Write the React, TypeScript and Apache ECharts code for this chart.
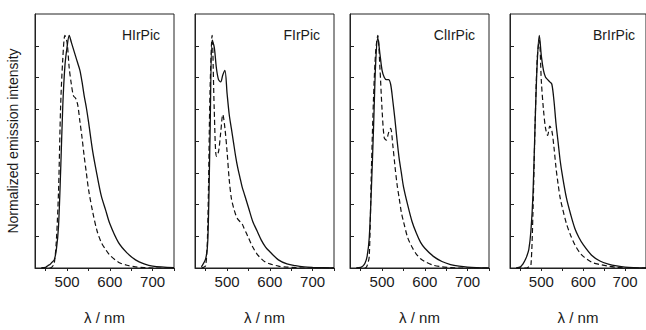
import React, { useEffect, useRef } from "react";
import * as echarts from "echarts";

// Wavelength grid (nm)
const wavelengths = [440, 450, 455, 460, 465, 470, 475, 480, 485, 490, 495, 500, 505, 510, 515, 520, 525, 530, 535, 540, 545, 550, 560, 570, 580, 590, 600, 620, 640, 660, 680, 700, 750];

// HIrPic
const hirSolid = [0, 0.003, 0.01, 0.015, 0.025, 0.035, 0.08, 0.18, 0.42, 0.7, 0.87, 0.95, 1.0, 0.97, 0.94, 0.91, 0.88, 0.85, 0.8, 0.74, 0.69, 0.63, 0.5, 0.4, 0.31, 0.25, 0.19, 0.11, 0.065, 0.035, 0.018, 0.008, 0.001];
const hirDashed = [0, 0, 0, 0, 0.005, 0.02, 0.12, 0.33, 0.7, 0.9, 1.0, 0.97, 0.86, 0.79, 0.74, 0.73, 0.7, 0.63, 0.56, 0.48, 0.41, 0.34, 0.24, 0.16, 0.11, 0.08, 0.055, 0.025, 0.012, 0.005, 0.002, 0, 0];
// FIrPic
const firSolid = [0.005, 0.04, 0.12, 0.55, 0.98, 0.95, 0.86, 0.81, 0.8, 0.83, 0.85, 0.75, 0.66, 0.6, 0.54, 0.48, 0.43, 0.39, 0.35, 0.32, 0.29, 0.26, 0.2, 0.16, 0.12, 0.09, 0.07, 0.035, 0.018, 0.01, 0.005, 0.003, 0];
const firDashed = [0, 0.01, 0.2, 0.75, 1.0, 0.68, 0.48, 0.5, 0.58, 0.66, 0.6, 0.5, 0.38, 0.3, 0.26, 0.23, 0.21, 0.2, 0.19, 0.17, 0.15, 0.13, 0.09, 0.06, 0.04, 0.025, 0.018, 0.008, 0.004, 0.002, 0, 0, 0];
// ClIrPic
const clirSolid = [0, 0.003, 0.008, 0.02, 0.05, 0.13, 0.34, 0.6, 0.88, 0.99, 0.92, 0.85, 0.82, 0.81, 0.81, 0.79, 0.72, 0.64, 0.55, 0.47, 0.41, 0.35, 0.27, 0.2, 0.15, 0.11, 0.085, 0.05, 0.028, 0.015, 0.008, 0.004, 0];
const clirDashed = [0, 0, 0, 0, 0.01, 0.05, 0.42, 0.73, 0.93, 1.0, 0.86, 0.68, 0.56, 0.55, 0.58, 0.6, 0.53, 0.44, 0.36, 0.3, 0.24, 0.2, 0.13, 0.09, 0.06, 0.04, 0.028, 0.012, 0.005, 0.002, 0, 0, 0];
// BrIrPic
const brirSolid = [0, 0.005, 0.015, 0.03, 0.05, 0.08, 0.16, 0.32, 0.62, 0.88, 1.0, 0.91, 0.85, 0.82, 0.81, 0.8, 0.79, 0.72, 0.62, 0.54, 0.46, 0.4, 0.3, 0.23, 0.17, 0.13, 0.1, 0.055, 0.03, 0.017, 0.009, 0.004, 0];
const brirDashed = [0, 0, 0, 0, 0, 0.005, 0.01, 0.25, 0.62, 0.9, 0.98, 0.8, 0.68, 0.6, 0.57, 0.61, 0.59, 0.52, 0.43, 0.36, 0.3, 0.26, 0.19, 0.14, 0.1, 0.07, 0.05, 0.025, 0.015, 0.008, 0.003, 0, 0];

const panelNames = ["HIrPic", "FIrPic", "ClIrPic", "BrIrPic"];
const solidSets = [hirSolid, firSolid, clirSolid, brirSolid];
const dashedSets = [hirDashed, firDashed, clirDashed, brirDashed];

const xTickValues = [450, 500, 550, 600, 650, 700, 750];
const xLabelValues = [500, 600, 700];
const yTickValues = [0.1365, 0.273, 0.4095, 0.546, 0.6825, 0.819, 0.9555];

const X_MIN = 425;
const X_MAX = 750;
const Y_MAX = 1.092;

const panelLefts = [35, 195, 350, 510];
const PANEL_W = 139;
const PANEL_TOP = 14;
const PANEL_H = 262;
const FONT = "Liberation Sans, Arial, Helvetica, sans-serif";
const INK = "#1a1a1a";

export default function App() {
  const ref = useRef<HTMLDivElement>(null);

  useEffect(() => {
    if (!ref.current) return;
    const chart = echarts.init(ref.current, undefined, { renderer: "svg" });

    const grids = panelLefts.map((left) => ({
      left,
      top: PANEL_TOP,
      width: PANEL_W,
      height: PANEL_H,
      show: true,
      borderColor: "#222",
      borderWidth: 1,
      backgroundColor: "transparent",
    }));

    const xAxes = panelLefts.map((_, i) => ({
      type: "value",
      gridIndex: i,
      min: X_MIN,
      max: X_MAX,
      name: "λ / nm",
      nameLocation: "middle",
      nameGap: 42,
      nameTextStyle: { fontFamily: FONT, fontSize: 15, color: INK },
      axisLine: { show: true, lineStyle: { color: "#222", width: 1 } },
      axisTick: { show: true, inside: false, length: 3, customValues: xTickValues, lineStyle: { color: "#222" } },
      axisLabel: { customValues: xLabelValues, fontFamily: FONT, fontSize: 15, color: INK, margin: 6 },
      splitLine: { show: false },
    }));

    const yAxes = panelLefts.map((_, i) => ({
      type: "value",
      gridIndex: i,
      min: 0,
      max: Y_MAX,
      name: i === 0 ? "Normalized emission intensity" : "",
      nameLocation: "middle",
      nameGap: 15,
      nameTextStyle: { fontFamily: FONT, fontSize: 14, color: INK },
      axisLine: { show: true, lineStyle: { color: "#222", width: 1 } },
      axisTick: { show: true, inside: true, length: 4, customValues: yTickValues, lineStyle: { color: "#222" } },
      axisLabel: { show: false },
      splitLine: { show: false },
    }));

    const series: any[] = [];
    panelNames.forEach((_, i) => {
      series.push({
        type: "line",
        xAxisIndex: i,
        yAxisIndex: i,
        data: wavelengths.map((w, j) => [w, solidSets[i][j]]),
        showSymbol: false,
        smooth: 0.3,
        lineStyle: { color: "#111", width: 1.3, type: "solid" },
        silent: true,
      });
      series.push({
        type: "line",
        xAxisIndex: i,
        yAxisIndex: i,
        data: wavelengths.map((w, j) => [w, dashedSets[i][j]]),
        showSymbol: false,
        smooth: 0.3,
        lineStyle: { color: "#111", width: 1.2, type: [5, 3] },
        silent: true,
      });
    });

    const graphics = panelNames.map((name, i) => ({
      type: "text",
      x: panelLefts[i] + PANEL_W - 14,
      y: 35,
      style: {
        text: name,
        textAlign: "right",
        textVerticalAlign: "middle",
        fontFamily: FONT,
        fontSize: 14,
        fill: INK,
      },
    }));

    chart.setOption({
      animation: false,
      backgroundColor: "#fff",
      grid: grids,
      xAxis: xAxes,
      yAxis: yAxes,
      series,
      graphic: graphics,
    });

    return () => chart.dispose();
  }, []);

  return (
    <div
      ref={ref}
      style={{ position: "fixed", left: 0, top: 0, width: 646, height: 330 }}
    />
  );
}
